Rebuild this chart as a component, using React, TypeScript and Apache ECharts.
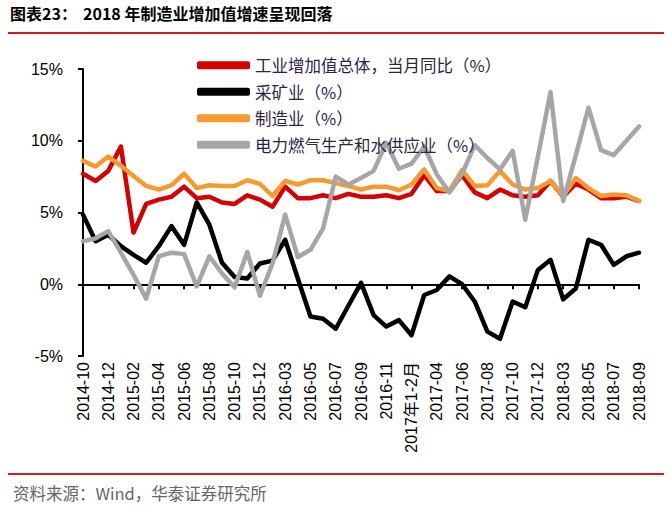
import React, { useEffect, useRef } from "react";
import * as echarts from "echarts";

const categories = [
  "2014-10", "2014-11", "2014-12", "2015-01", "2015-02", "2015-03", "2015-04", "2015-05", "2015-06",
  "2015-07", "2015-08", "2015-09", "2015-10", "2015-11", "2015-12", "2016-02", "2016-03", "2016-04",
  "2016-05", "2016-06", "2016-07", "2016-08", "2016-09", "2016-10", "2016-11", "2016-12", "2017年1-2月",
  "2017-03", "2017-04", "2017-05", "2017-06", "2017-07", "2017-08", "2017-09", "2017-10", "2017-11",
  "2017-12", "2018-02", "2018-03", "2018-04", "2018-05", "2018-06", "2018-07", "2018-08", "2018-09",
];

const seriesNames = [
  "工业增加值总体，当月同比（%）",
  "采矿业（%）",
  "制造业（%）",
  "电力燃气生产和水供应业（%）",
];

const totalValues = [
  7.7, 7.2, 7.9, 9.6, 3.6, 5.6, 5.9, 6.1, 6.8, 6.0, 6.1, 5.7, 5.6, 6.2, 5.9, 5.4, 6.8, 6.0, 6.0, 6.2,
  6.0, 6.3, 6.1, 6.1, 6.2, 6.0, 6.3, 7.6, 6.5, 6.5, 7.6, 6.4, 6.0, 6.6, 6.2, 6.1, 6.2, 7.2, 6.1, 7.0,
  6.6, 6.0, 6.0, 6.1, 5.8,
];

const miningValues = [
  4.85, 3.0, 3.45, 2.65, 2.05, 1.5, 2.65, 4.05, 2.75, 5.7, 4.15, 1.5, 0.5, 0.4, 1.45, 1.65, 3.1, 0.4,
  -2.25, -2.4, -3.1, -1.5, 0.1, -2.15, -2.95, -2.5, -3.55, -0.75, -0.4, 0.55, 0.0, -1.2, -3.3, -3.8,
  -1.2, -1.6, 1.0, 1.7, -1.05, -0.3, 3.1, 2.75, 1.35, 1.95, 2.2,
];

const manufacturingValues = [
  8.6, 8.2, 8.9, 8.25, 7.55, 6.85, 6.6, 6.9, 7.7, 6.7, 6.9, 6.85, 6.85, 7.25, 7.0, 6.15, 7.2, 6.95,
  7.25, 7.25, 7.05, 6.85, 6.6, 6.8, 6.8, 6.55, 6.95, 8.0, 6.7, 6.5, 7.95, 6.85, 6.9, 7.9, 6.95, 6.6,
  6.7, 7.2, 6.15, 7.4, 6.7, 6.15, 6.25, 6.2, 5.8,
];

const utilityValues = [
  3.0, 3.2, 3.7, 2.2, 0.65, -1.0, 1.95, 2.2, 2.1, -0.15, 1.95, 0.75, -0.2, 2.25, -0.8, 1.45, 4.85, 1.9,
  2.4, 3.9, 7.5, 6.95, 7.4, 7.9, 9.85, 8.05, 8.4, 9.6, 7.65, 6.4, 7.7, 9.7, 8.8, 8.0, 9.3, 4.5, 8.9,
  13.4, 5.8, 9.0, 12.3, 9.35, 9.0, 10.0, 11.0,
];

const colors = ["#d40000", "#000000", "#f79a32", "#a6a6a6"];

export default function App() {
  const ref = useRef<HTMLDivElement>(null);

  useEffect(() => {
    if (!ref.current) return;
    const chart = echarts.init(ref.current, null, { renderer: "svg" });
    const dataSets = [totalValues, miningValues, manufacturingValues, utilityValues];
    const option = {
      animation: false,
      backgroundColor: "#ffffff",
      grid: { left: 83, right: 33, top: 69, bottom: 156, containLabel: false },
      legend: {
        orient: "vertical",
        left: 192,
        top: 52,
        itemWidth: 53,
        itemHeight: 8,
        itemGap: 10,
        icon: "roundRect",
        textStyle: {
          fontSize: 16.5,
          lineHeight: 16,
          color: "#2f2440",
          fontFamily: "Noto Sans CJK SC",
        },
        data: seriesNames,
      },
      xAxis: [
        {
          type: "category",
          data: categories,
          boundaryGap: false,
          position: "bottom",
          axisLine: { show: true, onZero: true, lineStyle: { color: "#000", width: 2 } },
          axisTick: { show: true, interval: 1, length: 5, lineStyle: { color: "#000", width: 2 } },
          axisLabel: { show: false },
          splitLine: { show: false },
        },
        {
          type: "category",
          data: categories,
          boundaryGap: false,
          position: "bottom",
          axisLine: { show: false, onZero: false },
          axisTick: { show: false },
          axisLabel: {
            show: true,
            interval: 1,
            rotate: 90,
            margin: 6,
            fontSize: 16,
            color: "#000",
            fontFamily: "Liberation Sans, Noto Sans CJK SC",
          },
          splitLine: { show: false },
        },
      ],
      yAxis: {
        type: "value",
        min: -5,
        max: 15,
        interval: 5,
        axisLine: { show: true, lineStyle: { color: "#000", width: 2 } },
        axisTick: { show: true, length: 5, lineStyle: { color: "#000", width: 2 } },
        axisLabel: {
          formatter: "{value}%",
          fontSize: 16,
          margin: 20,
          color: "#000",
          fontFamily: "Liberation Sans",
        },
        splitLine: { show: false },
      },
      series: seriesNames.map((name, i) => ({
        name,
        type: "line",
        xAxisIndex: 0,
        data: dataSets[i],
        symbol: "none",
        smooth: false,
        itemStyle: { color: colors[i] },
        lineStyle: { color: colors[i], width: 4.5, join: "round", cap: "round" },
      })),
      graphic: [
        {
          type: "text",
          left: 10,
          top: 5,
          style: {
            text: "图表23：",
            fontSize: 16,
            fontWeight: "bold",
            fill: "#000",
            fontFamily: "Noto Sans CJK SC",
          },
        },
        {
          type: "text",
          left: 83,
          top: 5,
          style: {
            text: "2018 年制造业增加值增速呈现回落",
            fontSize: 16,
            fontWeight: "bold",
            fill: "#000",
            fontFamily: "Noto Sans CJK SC",
          },
        },
        {
          type: "rect",
          shape: { x: 8, y: 32, width: 656, height: 2 },
          style: { fill: "#d11a1a" },
        },
        {
          type: "rect",
          shape: { x: 8, y: 473, width: 656, height: 2 },
          style: { fill: "#d11a1a" },
        },
        {
          type: "text",
          left: 13,
          top: 485,
          style: {
            text: "资料来源：Wind，华泰证券研究所",
            fontSize: 16.5,
            fill: "#666666",
            fontFamily: "Noto Sans CJK SC",
          },
        },
      ],
    };
    chart.setOption(option as any);
    return () => chart.dispose();
  }, []);

  return (
    <div
      ref={ref}
      style={{ position: "fixed", left: 0, top: 0, width: 672, height: 512, background: "#fff" }}
    />
  );
}
